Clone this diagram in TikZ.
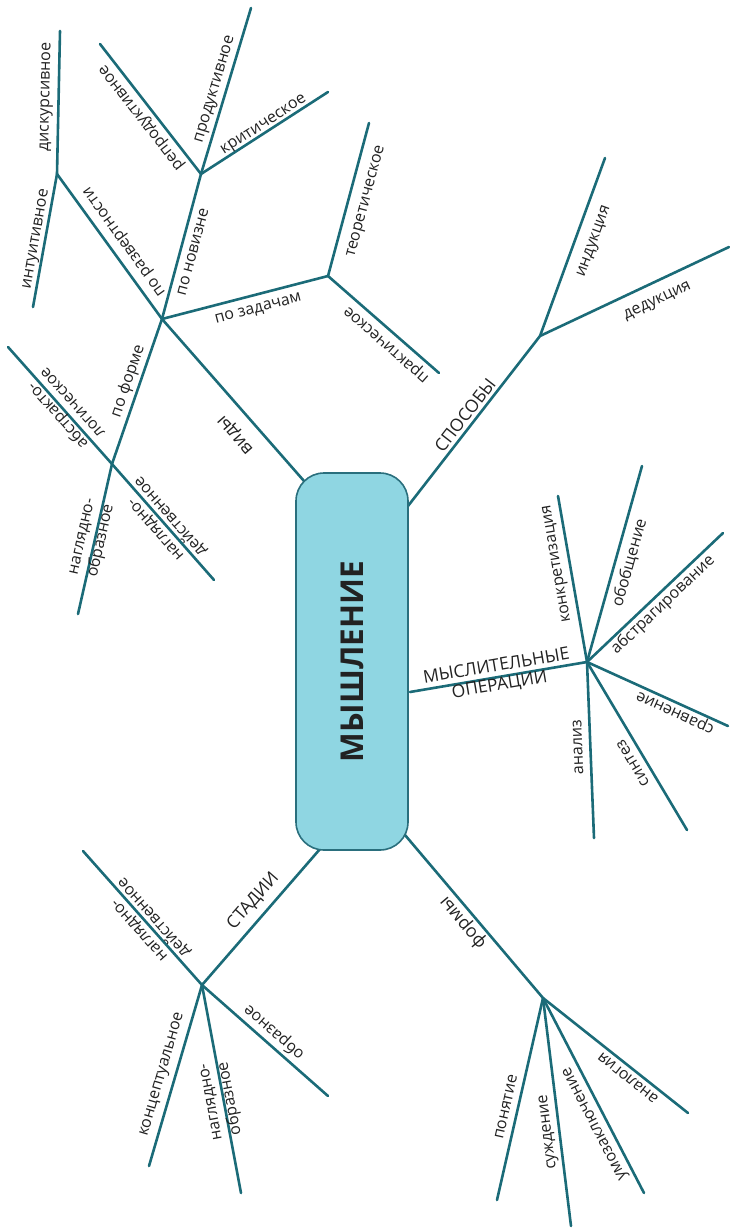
\documentclass[tikz,border=0pt]{standalone}
\usepackage{fontspec}
\setmainfont{Open Sans}
\definecolor{branch}{HTML}{1B6B78}
\definecolor{boxfill}{HTML}{8FD6E2}
\definecolor{boxline}{HTML}{2A6F7D}
\definecolor{ink}{HTML}{222222}
\begin{document}
\begin{tikzpicture}[x=1pt,y=-1pt,
  br/.style={draw=branch, line width=2.6pt, line cap=round},
  txt/.style={font=\fontsize{16}{19.5}\selectfont, text=ink, inner sep=0pt, align=center},
  lab/.style={txt, text height=8.6pt, text depth=0pt},
  twolab/.style={txt},
  headcap/.style={font=\fontsize{17.5}{19}\selectfont, text=ink, inner sep=0pt,
    text height=12.5pt, text depth=0pt, align=center},
  headtwo/.style={font=\fontsize{17.5}{19}\selectfont, text=ink, inner sep=0pt, align=center},
  headlow/.style={font=\fontsize{18}{22}\selectfont, text=ink, inner sep=0pt,
    text height=9.6pt, text depth=0pt, align=center},
  box/.style={draw=boxline, fill=boxfill, line width=1.6pt, rounded corners=28pt,
    minimum width=112pt, minimum height=377pt, inner sep=0pt},
]
\useasboundingbox (0,0) rectangle (729,1228);

% --- where the branches leave the central box
\coordinate (vStart) at (304,481);
\coordinate (sStart) at (408,506);
\coordinate (mStart) at (410,692);
\coordinate (stStart) at (320,849);
\coordinate (fStart) at (405,835);

% --- forks
\coordinate (A) at (162,319);
\coordinate (B) at (57,174);
\coordinate (C) at (201,174);
\coordinate (D) at (328,276);
\coordinate (E) at (112,464);
\coordinate (F) at (540,336);
\coordinate (G) at (587,662);
\coordinate (H) at (202,985);
\coordinate (I) at (543,998);

% --- branch tips
\coordinate (disk) at (60,31);
\coordinate (intu) at (33,307);
\coordinate (repr) at (100,44);
\coordinate (prod) at (251,8);
\coordinate (krit) at (328,92);
\coordinate (teor) at (369,123);
\coordinate (prak) at (439,373);
\coordinate (abslog) at (8,347);
\coordinate (nagdei) at (214,580);
\coordinate (nagobr) at (78,614);
\coordinate (ind) at (605,158);
\coordinate (ded) at (729,247);
\coordinate (konk) at (558,496);
\coordinate (obob) at (642,466);
\coordinate (abst) at (723,533);
\coordinate (srav) at (728,726);
\coordinate (sint) at (687,830);
\coordinate (anal) at (594,838);
\coordinate (sNagDei) at (83,851);
\coordinate (sObr) at (328,1096);
\coordinate (sKonc) at (149,1166);
\coordinate (sNagObr) at (241,1193);
\coordinate (pon) at (497,1200);
\coordinate (sud) at (571,1226);
\coordinate (umoz) at (644,1193);
\coordinate (analog) at (688,1113);

% --- connectors
\draw[br] (vStart) -- (A);
\draw[br] (A) -- (B);
\draw[br] (A) -- (C);
\draw[br] (A) -- (D);
\draw[br] (A) -- (E);
\draw[br] (B) -- (disk);
\draw[br] (B) -- (intu);
\draw[br] (C) -- (repr);
\draw[br] (C) -- (prod);
\draw[br] (C) -- (krit);
\draw[br] (D) -- (teor);
\draw[br] (D) -- (prak);
\draw[br] (E) -- (abslog);
\draw[br] (E) -- (nagdei);
\draw[br] (E) -- (nagobr);

\draw[br] (sStart) -- (F);
\draw[br] (F) -- (ind);
\draw[br] (F) -- (ded);

\draw[br] (mStart) -- (G);
\foreach \t in {konk,obob,abst,srav,sint,anal} \draw[br] (G) -- (\t);

\draw[br] (stStart) -- (H);
\foreach \t in {sNagDei,sObr,sKonc,sNagObr} \draw[br] (H) -- (\t);

\draw[br] (fStart) -- (I);
\foreach \t in {pon,sud,umoz,analog} \draw[br] (I) -- (\t);

% --- central box
\node[box] (think) at (352,661.5) {};
\node[rotate=90, text=ink, font=\bfseries\fontsize{31.5}{34}\selectfont, inner sep=0pt]
  (thinkText) at (think.center) {МЫШЛЕНИЕ};

% --- labels: kinds
\node[headlow, rotate=131.2] (tVid) at (235,435) {виды};
\node[lab, rotate=125.9] (tRazv) at (124,242) {по развертности};
\node[lab, rotate=74.9] (tNov) at (193,252) {по новизне};
\node[lab, rotate=14.5] (tZad) at (258,308) {по задачам};
\node[lab, rotate=71] (tForm) at (128,381) {по форме};
\node[lab, rotate=88.8] (tDisk) at (45,97) {дискурсивное};
\node[lab, rotate=79.8] (tIntu) at (35,239) {интуитивное};
\node[lab, rotate=73.2] (tProd) at (214,89) {продуктивное};
\node[lab, rotate=127.8] (tRepr) at (141,118) {репродуктивное};
\node[lab, rotate=32.8] (tKrit) at (263,124) {критическое};
\node[lab, rotate=75] (tTeor) at (365,201) {теоретическое};
\node[lab, rotate=138.8] (tPrak) at (386,345) {практическое};
\node[twolab, rotate=131.6] (tAbsLog) at (64,410) {абстракто-\\логическое};
\node[twolab, rotate=131.3] (tNagDei) at (164,522) {наглядно-\\действенное};
\node[twolab, rotate=77.2] (tNagObr) at (93,539) {наглядно-\\образное};

% --- labels: methods
\node[headcap, rotate=52.2] (tSpos) at (465,415) {СПОСОБЫ};
\node[lab, rotate=69.9] (tInd) at (593,241) {индукция};
\node[lab, rotate=25.2] (tDed) at (657,300) {дедукция};

% --- labels: mental operations
\node[headtwo, rotate=9.6] (tMys) at (498,676) {МЫСЛИТЕЛЬНЫЕ\\ОПЕРАЦИИ};
\node[lab, rotate=99.9] (tKonk) at (556,564) {конкретизация};
\node[lab, rotate=74.3] (tObob) at (630,563) {обобщение};
\node[lab, rotate=43.5] (tAbst) at (663,605) {абстрагирование};
\node[lab, rotate=155.6] (tSrav) at (675,713) {сравнение};
\node[lab, rotate=120.8] (tSint) at (633,763) {синтез};
\node[lab, rotate=92.3] (tAnal) at (578,747) {анализ};

% --- labels: stages
\node[headcap, rotate=49] (tStad) at (252,900) {СТАДИИ};
\node[twolab, rotate=131.6] (tSNagDei) at (147.5,923) {наглядно-\\действенное};
\node[lab, rotate=138.6] (tSObr) at (274,1032) {образное};
\node[lab, rotate=73.7] (tSKonc) at (161,1074) {концептуальное};
\node[twolab, rotate=100.6] (tSNagObr) at (222,1100) {наглядно-\\образное};

% --- labels: forms
\node[headlow, rotate=130.3] (tForms) at (463,923) {формы};
\node[lab, rotate=77.2] (tPon) at (506,1107) {понятие};
\node[lab, rotate=97] (tSud) at (547,1132) {суждение};
\node[lab, rotate=117.4] (tUmoz) at (594,1124) {умозаключение};
\node[lab, rotate=141.6] (tAnalog) at (628,1078) {аналогия};
\end{tikzpicture}
\end{document}
